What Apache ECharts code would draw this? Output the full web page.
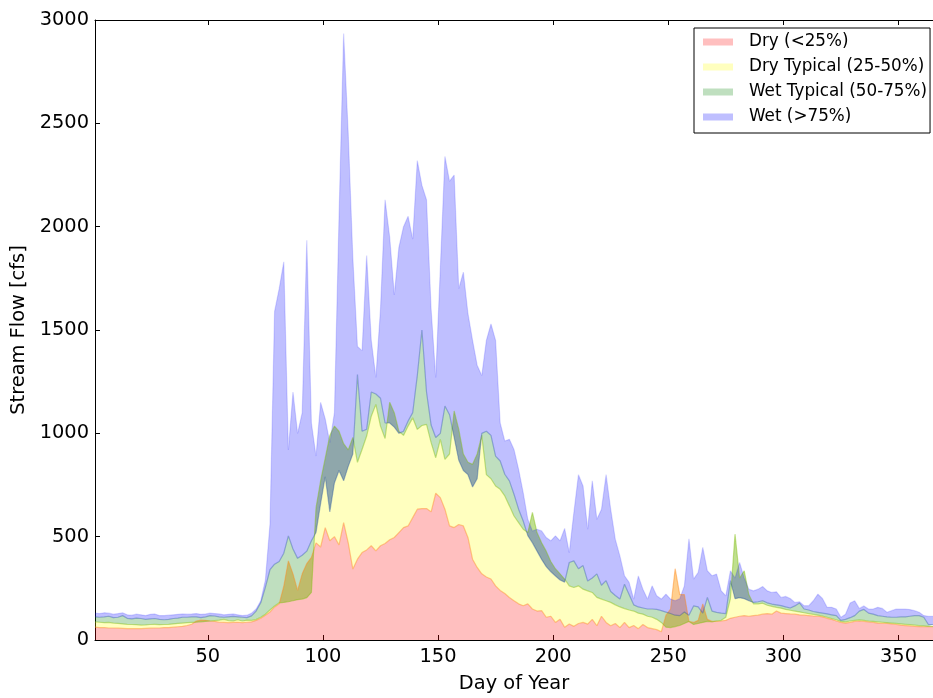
<!DOCTYPE html>
<html><head><meta charset="utf-8">
<script src="https://cdn.jsdelivr.net/npm/echarts@6/dist/echarts.min.js"></script>
<style>html,body{margin:0;padding:0;background:#fff}#c{width:933px;height:698px}</style>
</head><body><div id="c"></div>
<script>
// Day of year sample positions (every second day)
const days = [1,3,5,7,9,11,13,15,17,19,21,23,25,27,29,31,33,35,37,39,41,43,45,47,49,51,53,55,57,59,61,63,65,67,
69,71,73,75,77,79,81,83,85,87,89,91,93,95,97,99,101,103,105,107,109,111,113,115,117,119,121,123,125,127,129,131,133,135,137,139,141,143,145,147,149,151,153,155,157,159,161,163,165,167,169,171,173,175,
177,179,181,183,185,187,189,191,193,195,197,199,201,203,205,207,209,211,213,215,217,219,221,223,225,
227,229,231,233,235,237,239,241,243,245,247,249,251,253,255,257,259,
261,263,265,267,269,271,273,275,277,279,281,283,285,287,289,291,293,295,297,299,301,303,305,307,309,311,313,315,317,319,321,323,325,327,329,331,333,335,337,339,341,343,345,347,349,351,353,355,357,359,361,363,365];

// Stream flow [cfs] for each year class
const dry = [62,60,60,58,58,57,56,55,55,55, 55,56,57,58,58,60,60,62,64,66, 70,76,92,96,95,92,90,86,85,84, 85,86,84,86,
88,95,105,120,135,160,175,260,383,320, 240,320,370,400,470,450,544,480,500,460, 568,470,343,391,423,436,456,431,456,467, 485,496,520,544,552,592,633,636,636,620, 710,689,633,552,544,559,552,496,391,351, 320,305,295,262,
240,225,206,190,175,166,175,150,140,142, 110,115,85,100,62,77,66,80,85,77, 100,69,115,85,69,
80,60,85,60,70,55,75,60,55,50, 40,120,150,345,220,220,90,
85,95,175,100,90,90,92,95,105,110, 115,118,115,118,120,125,128,125,140,130, 128,126,125,122,120,118,116,115,112,105, 100,92,85,82,85,90,92,90,88,85, 82,80,80,78,75,72,70,68,66,65, 64,64,64];

const dryTypical = [88,86,84,85,82,80,78,76,75,74, 72,73,75,76,74,75,76,78,80,82, 84,85,86,88,90,92,94,96,100,94, 92,98,92,96,
95,100,110,125,145,165,180,182,185,190, 195,198,205,230,640,770,880,990,1035,1010, 950,920,980,860,922,987,1083,1140,1035,975, 1150,1100,1010,990,1035,1075,1019,1038,1043,955, 882,971,874,900,1108,1020,900,860,850,900, 990,800,780,745,
729,697,649,600,568,536,520,617,520,470, 430,380,345,320,295,262,254,262,246,238, 230,206,198,190,182,
170,160,152,145,140,130,125,115,110,100, 85,62,60,65,70,80,90,
75,80,85,90,88,92,95,110,200,512, 300,335,220,175,175,178,168,163,158,154, 148,144,140,136,132,128,124,120,116,110, 104,98,90,88,92,95,97,95,92,90, 88,86,84,82,80,78,76,74,72,70, 68,66,66];

const wetTypical = [112,110,112,115,108,110,118,105,102,106, 104,100,102,104,100,98,100,104,106,110, 110,112,112,108,112,118,116,112,110,112, 114,112,110,108,
117,140,180,255,340,367,380,420,504,440, 395,410,430,480,520,660,790,620,760,820, 770,840,900,1285,1010,1020,1200,1190,1170,1050, 1050,1030,1000,1010,1060,1100,1280,1500,1200,1040, 980,1000,1132,1090,980,870,820,800,740,780, 1000,1010,990,890,
866,802,770,705,633,576,505,470,430,390, 355,330,310,290,280,375,383,345,360,285, 300,320,265,287,235,
215,198,270,220,170,160,155,150,150,148, 142,135,128,120,118,135,120,
165,160,130,206,140,134,130,128,287,200, 205,200,190,182,185,190,180,174,170,166, 160,155,165,179,150,145,138,134,130,126, 122,118,95,100,108,118,140,148,130,125, 118,115,112,110,110,112,112,115,118,118, 110,75,75];

const wet = [130,128,132,130,125,128,132,122,120,125, 122,118,124,126,118,118,120,122,124,126, 125,126,128,124,126,130,128,126,122,124, 126,122,118,120,
130,150,190,290,560,1590,1700,1830,920,1200, 1000,1100,1934,1050,890,1150,1070,955,1100,2050, 2935,2450,1850,1420,1400,1860,1450,1270,1600,2130, 1950,1670,1900,2000,2050,1940,2320,2200,2130,1600, 1270,1800,2340,2220,2250,1700,1780,1580,1450,1330, 1280,1450,1530,1450,
1050,963,971,922,826,713,584,528,536,528, 496,480,504,480,540,423,617,800,745,536, 770,584,633,800,633,
488,407,311,279,198,310,246,198,262,214, 198,222,198,190,200,262,490,
295,327,448,335,311,319,238,214,335,300, 375,300,246,238,246,259,238,230,233,206, 211,201,182,185,166,166,190,222,201,158, 158,150,110,125,179,190,153,165,150,150, 158,153,134,142,150,150,150,147,142,134, 118,115,115];

const names = ['Dry (<25%)', 'Dry Typical (25-50%)', 'Wet Typical (50-75%)', 'Wet (>75%)'];
const xTicks = [50, 100, 150, 200, 250, 300, 350];

const fills = ['rgba(255,0,0,0.25)', 'rgba(255,255,0,0.25)', 'rgba(0,128,0,0.25)', 'rgba(0,0,255,0.25)'];
const lines = ['rgba(255,140,30,0.45)', 'rgba(130,190,20,0.45)', 'rgba(20,70,160,0.35)', 'rgba(0,0,255,0.15)'];

// each class is filled between the previous class curve and its own curve (stacked differences)
const curves = [dry, dryTypical, wetTypical, wet];
const bands = curves.map((c, k) => c.map((v, i) => k === 0 ? v : v - curves[k - 1][i]));

const FONT = 'DejaVu Sans';
const axisCommon = {
  axisLine: {show: true, onZero: false, lineStyle: {color: '#000', width: 1}},
  splitLine: {show: false}
};
const chart = echarts.init(document.getElementById('c'), null, {renderer: 'canvas'});
chart.setOption({
  animation: false,
  backgroundColor: '#fff',
  grid: {left: 95, right: -9, top: 20, bottom: 57, containLabel: false},
  xAxis: [{
    // data axis: the sampled days, evenly spaced
    type: 'category', data: days.map(String), boundaryGap: false,
    show: false
  }, Object.assign({
    type: 'value', position: 'bottom', min: 1, max: 365,
    name: 'Day of Year', nameLocation: 'middle', nameGap: 34,
    nameTextStyle: {fontFamily: FONT, fontSize: 19.4, color: '#000'},
    axisTick: {show: true, inside: true, length: 5, lineStyle: {color: '#000'}, customValues: xTicks},
    axisLabel: {fontFamily: FONT, fontSize: 19.4, color: '#000', margin: 7, customValues: xTicks}
  }, axisCommon), Object.assign({
    type: 'value', position: 'top', min: 1, max: 365,
    axisTick: {show: true, inside: true, length: 5, lineStyle: {color: '#000'}, customValues: xTicks},
    axisLabel: {show: false}
  }, axisCommon)],
  yAxis: [Object.assign({
    type: 'value', min: 0, max: 3000, interval: 500,
    name: 'Stream Flow [cfs]', nameLocation: 'middle', nameGap: 64, nameRotate: 90,
    nameTextStyle: {fontFamily: FONT, fontSize: 19.4, color: '#000'},
    axisTick: {show: true, inside: true, length: 5, lineStyle: {color: '#000'}},
    axisLabel: {fontFamily: FONT, fontSize: 19.4, color: '#000', margin: 6, formatter: v => String(v)}
  }, axisCommon)],
  legend: {
    orient: 'vertical', left: 694, top: 28,
    padding: [4, 3, 6, 9],
    itemWidth: 30, itemHeight: 7, itemGap: 5,
    icon: 'rect',
    borderColor: '#000', borderWidth: 1, borderRadius: 0, backgroundColor: '#fff',
    selectedMode: false,
    textStyle: {fontFamily: FONT, fontSize: 16.8, color: '#000', lineHeight: 20, padding: [0, 0, 0, 11]},
    data: names.map((n, i) => ({name: n, itemStyle: {color: fills[i]}}))
  },
  series: bands.map((b, k) => ({
    name: names[k], type: 'line', xAxisIndex: 0, yAxisIndex: 0,
    stack: 'flow', stackStrategy: 'all',
    data: b, symbol: 'none', showSymbol: false, smooth: false, clip: true,
    lineStyle: {color: lines[k], width: 1.2},
    itemStyle: {color: fills[k]},
    areaStyle: {color: fills[k], opacity: 1},
    emphasis: {disabled: true}, silent: true
  }))
});
</script>
</body></html>
